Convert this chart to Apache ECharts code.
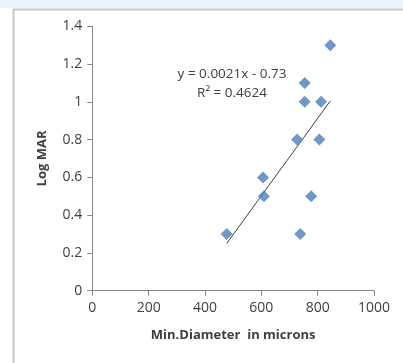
<!DOCTYPE html>
<html>
<head>
<meta charset="utf-8">
<script src="https://cdn.jsdelivr.net/npm/echarts@6/dist/echarts.min.js"></script>
<style>
html,body{margin:0;padding:0;background:#fff;}
#c{width:403px;height:363px;}
</style>
</head>
<body>
<div id="c"></div>
<script>
const diameters = [477, 606, 609, 727, 738, 754, 754, 777, 806, 812, 845];
const logMAR    = [0.3, 0.6, 0.5, 0.8, 0.3, 1.1, 1.0, 0.5, 0.8, 1.0, 1.3];
const trendX = [477, 845];
const trendY = [0.25, 1.005];
const equationText = 'y = 0.0021x - 0.73';
const r2Text = 'R\u00B2 = 0.4624';
const xTitle = 'Min.Diameter  in microns';
const yTitle = 'Log MAR';

const chart = echarts.init(document.getElementById('c'), null, {renderer:'canvas'});
const font = '"Open Sans", "Noto Sans", sans-serif';
chart.setOption({
  animation:false,
  backgroundColor:'#ffffff',
  graphic:[
    {type:'rect', shape:{x:0,y:0,width:403,height:8}, style:{fill:'#edf2f9'}, z:-10},
    {type:'rect', shape:{x:13.5,y:9.5,width:420,height:400}, style:{fill:'none', stroke:'#c6c6c6', lineWidth:2}, z:-5},
    {type:'text', x:232, y:74, style:{text:equationText, font:'13.5px '+font, fill:'#404040', textAlign:'center', textVerticalAlign:'middle'}},
    {type:'text', x:232, y:93, style:{text:r2Text, font:'13.5px '+font, fill:'#404040', textAlign:'center', textVerticalAlign:'middle'}}
  ],
  grid:{left:92.3, right:29, top:26.3, bottom:72.3},
  xAxis:{
    type:'value', min:0, max:1000, interval:200,
    name:xTitle, nameLocation:'middle', nameGap:38,
    nameTextStyle:{fontFamily:font, fontWeight:'bold', fontSize:13, color:'#404040'},
    axisLine:{onZero:false, lineStyle:{color:'#868686', width:1}},
    axisTick:{show:true, length:5, lineStyle:{color:'#868686'}},
    axisLabel:{fontFamily:font, fontSize:14, color:'#404040', margin:10, formatter:function(v){return String(v);}},
    splitLine:{show:false}
  },
  yAxis:{
    type:'value', min:0, max:1.4, interval:0.2,
    name:yTitle, nameLocation:'middle', nameGap:44, nameRotate:90,
    nameTextStyle:{fontFamily:font, fontWeight:'bold', fontSize:13, color:'#404040'},
    axisLine:{show:true, lineStyle:{color:'#868686', width:1}},
    axisTick:{show:true, length:5, lineStyle:{color:'#868686'}},
    axisLabel:{fontFamily:font, fontSize:14, color:'#404040', margin:10},
    splitLine:{show:false}
  },
  series:[
    {
      type:'scatter',
      symbol:'diamond',
      symbolSize:12,
      itemStyle:{color:'#4a7ebb'},
      data:diameters.map((d,i)=>[d, logMAR[i]]),
      z:3
    },
    {
      type:'line',
      symbol:'none',
      lineStyle:{color:'#404040', width:1},
      data:trendX.map((d,i)=>[d, trendY[i]]),
      z:2
    }
  ]
});
</script>
</body>
</html>
